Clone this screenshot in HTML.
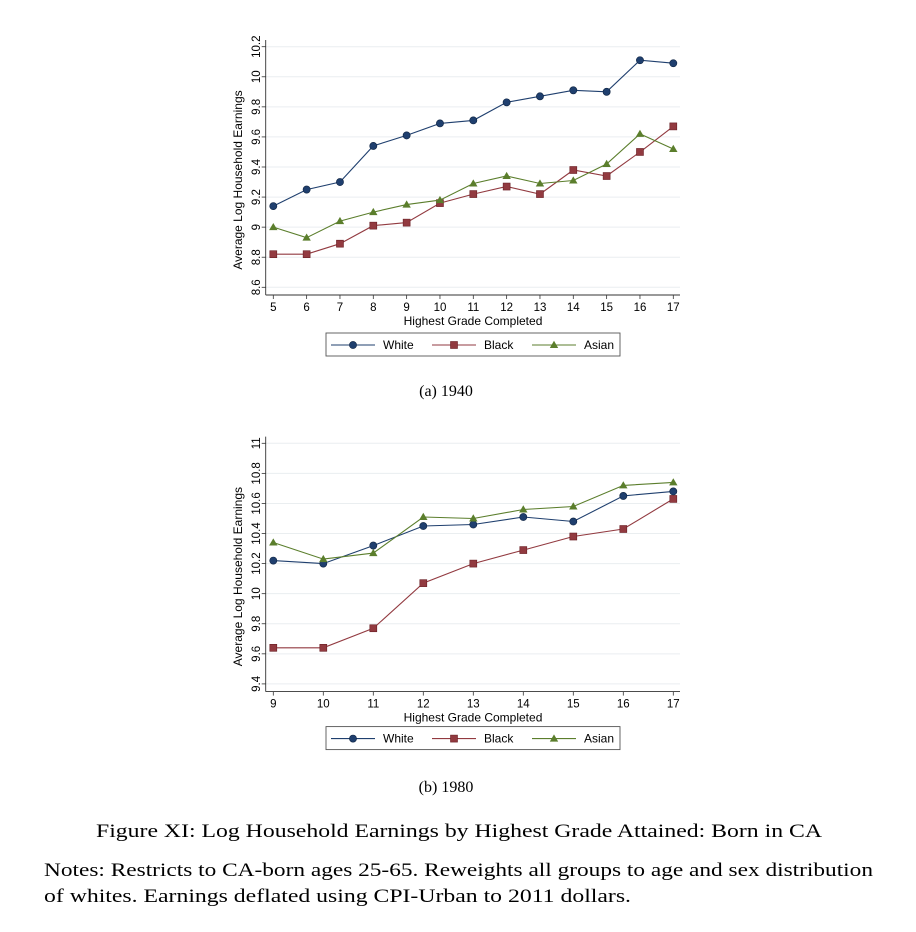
<!DOCTYPE html>
<html><head><meta charset="utf-8"><style>
html,body{margin:0;padding:0;background:#fff;}
svg{display:block;font-family:"Liberation Sans",sans-serif;}
.serif{font-family:"Liberation Serif",serif;}
</style></head>
<body>
<svg id="fig" width="916" height="932" xmlns="http://www.w3.org/2000/svg">
<text class="serif" x="446" y="396" font-size="16" text-anchor="middle">(a) 1940</text>
<text class="serif" x="446" y="792" font-size="16" text-anchor="middle">(b) 1980</text>
<text class="serif" x="96" y="837" font-size="19" textLength="726" lengthAdjust="spacingAndGlyphs">Figure XI: Log Household Earnings by Highest Grade Attained: Born in CA</text>
<text class="serif" x="44" y="876" font-size="19" textLength="829" lengthAdjust="spacingAndGlyphs">Notes: Restricts to CA-born ages 25-65. Reweights all groups to age and sex distribution</text>
<text class="serif" x="44" y="902" font-size="19" textLength="587" lengthAdjust="spacingAndGlyphs">of whites. Earnings deflated using CPI-Urban to 2011 dollars.</text>
</svg>
<script>
const grades1 = [5,6,7,8,9,10,11,12,13,14,15,16,17];
const white1 = [9.14,9.25,9.30,9.54,9.61,9.69,9.71,9.83,9.87,9.91,9.90,10.11,10.09];
const black1 = [8.82,8.82,8.89,9.01,9.03,9.16,9.22,9.27,9.22,9.38,9.34,9.50,9.67];
const asian1 = [9.00,8.93,9.04,9.10,9.15,9.18,9.29,9.34,9.29,9.31,9.42,9.62,9.52];
const yTicks1 = [8.6,8.8,9,9.2,9.4,9.6,9.8,10,10.2];
const yLabels1 = ["8.6","8.8","9","9.2","9.4","9.6","9.8","10","10.2"];
const grades2 = [9,10,11,12,13,14,15,16,17];
const white2 = [10.22,10.20,10.32,10.45,10.46,10.51,10.48,10.65,10.68];
const black2 = [9.64,9.64,9.77,10.07,10.20,10.29,10.38,10.43,10.63];
const asian2 = [10.34,10.23,10.27,10.51,10.50,10.56,10.58,10.72,10.74];
const yTicks2 = [9.4,9.6,9.8,10,10.2,10.4,10.6,10.8,11];
const yLabels2 = ["9.4","9.6","9.8","10","10.2","10.4","10.6","10.8","11"];
const seriesNames = ["White","Black","Asian"];

const NS="http://www.w3.org/2000/svg";
const svg=document.getElementById('fig');
const COL=["#1f3f6e","#923a40","#5b7e2c"];
function mk(tag,attrs,parent){const e=document.createElementNS(NS,tag);for(const k in attrs)e.setAttribute(k,attrs[k]);(parent||svg).appendChild(e);return e;}

function chart(id,grades,series,yTicks,yLabels,top){
  const g=mk('g',{});
  
  
  const x0=273.3,x1=673.3,gmin=grades[0],gmax=grades[grades.length-1];
  const X=v=>x0+(v-gmin)*(x1-x0)/(gmax-gmin);
  const yTopPx=top+16.7,yBotPx=top+257.3;
  const ymin=yTicks[0],ymax=yTicks[yTicks.length-1];
  const Y=v=>yBotPx-(v-ymin)*(yBotPx-yTopPx)/(ymax-ymin);
  const axL=265.7,axB=top+265;
  yTicks.forEach((t,i)=>{
    const gl=mk('line',{x1:axL,x2:680,y1:Y(t),y2:Y(t),stroke:"#eaeef0","stroke-width":1},g);
    
    
    mk('line',{x1:axL-4,x2:axL,y1:Y(t),y2:Y(t),stroke:"#333","stroke-width":0.8},g);
    const tx=mk('text',{x:0,y:0,"font-size":11.5,"text-anchor":"middle",transform:`translate(260,${Y(t)}) rotate(-90)`},g);
    tx.textContent=yLabels[i];
    
    
  });
  mk('line',{x1:axL,x2:axL,y1:top+10,y2:axB,stroke:"#333","stroke-width":0.9},g);
  mk('line',{x1:axL,x2:680,y1:axB,y2:axB,stroke:"#333","stroke-width":0.9},g);
  grades.forEach(gr=>{
    mk('line',{x1:X(gr),x2:X(gr),y1:axB,y2:axB+4,stroke:"#333","stroke-width":0.8},g);
    const tx=mk('text',{x:X(gr),y:axB+16,"font-size":11.5,"text-anchor":"middle"},g);
    tx.textContent=gr;
    
    
  });
  const xt=mk('text',{x:473,y:axB+30,"font-size":12,"text-anchor":"middle"},g);
  xt.textContent="Highest Grade Completed";
  
  
  const yt=mk('text',{x:0,y:0,"font-size":12,"text-anchor":"middle",transform:`translate(242,${(yTopPx+yBotPx)/2+13}) rotate(-90)`},g);
  yt.textContent="Average Log Household Earnings";
  
  
  function marker(k,cx,cy,par){
    if(k===0) return mk('circle',{cx,cy,r:3.6,fill:COL[0],stroke:"#0d2240","stroke-width":0.6},par);
    if(k===1) return mk('rect',{x:cx-3.5,y:cy-3.5,width:7,height:7,fill:COL[1],stroke:"#6a1e24","stroke-width":0.6},par);
    return mk('path',{d:`M${cx},${cy-4.2}L${cx+4.2},${cy+3}L${cx-4.2},${cy+3}Z`,fill:COL[2]},par);
  }
  series.forEach((vals,k)=>{
    const pts=vals.map((v,i)=>X(grades[i]).toFixed(1)+","+Y(v).toFixed(1)).join(" ");
    const pl=mk('polyline',{points:pts,fill:"none",stroke:COL[k],"stroke-width":1.1},g);
    
    
    vals.forEach((v,i)=>{
      const m=marker(k,X(grades[i]),Y(v),g);
      
      
    });
  });
  const ly=top+(id==='chart-1940'?303:300);
  const lg=mk('g',{},g);
  
  
  mk('rect',{x:326,y:ly,width:294,height:23,fill:"#fff",stroke:"#555","stroke-width":0.9},lg);
  const lx=[331,432,532];
  seriesNames.forEach((n,k)=>{
    mk('line',{x1:lx[k],x2:lx[k]+44,y1:ly+12,y2:ly+12,stroke:COL[k],"stroke-width":1.1},lg);
    marker(k,lx[k]+22,ly+12,lg);
    const t=mk('text',{x:lx[k]+52,y:ly+16,"font-size":12},lg);
    t.textContent=n;
    
    
  });
}
chart('chart-1940',grades1,[white1,black1,asian1],yTicks1,yLabels1,30);
chart('chart-1980',grades2,[white2,black2,asian2],yTicks2,yLabels2,426.6);
</script>
</body></html>
